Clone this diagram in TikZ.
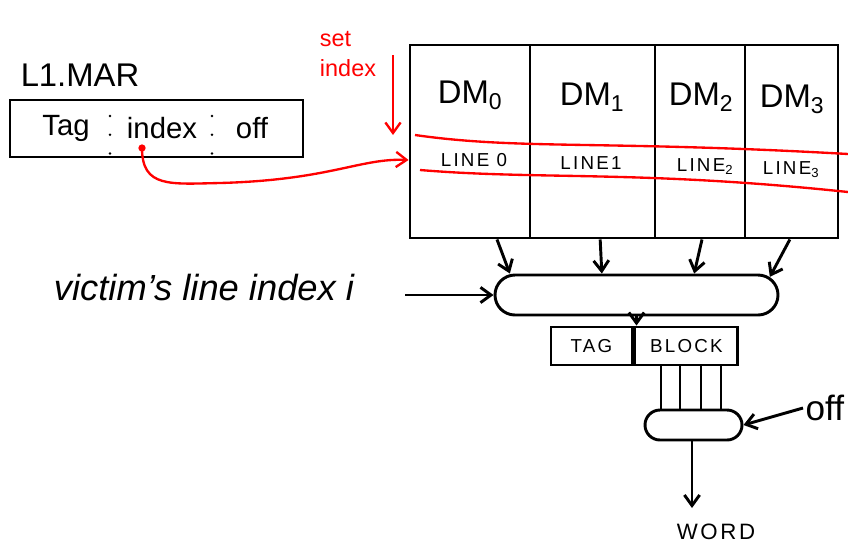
\documentclass[tikz,border=0pt]{standalone}
\usepackage{fontspec}
\setmainfont{Liberation Sans}
\newfontfamily\hand[LetterSpace=12]{Liberation Sans}
\usetikzlibrary{arrows.meta,positioning,shapes.misc}

\begin{document}
\begin{tikzpicture}[
  x=0.03cm, y=-0.03cm,
  line width=2.5pt,
  wire/.style={-{Straight Barb[length=9pt,width=13pt]}},
  red wire/.style={wire, red, line width=2pt},
  box/.style={draw, inner sep=0pt},
  mux/.style={draw, rounded rectangle, inner sep=0pt},
  big/.style={font=\fontsize{28}{30}\selectfont},
  mid/.style={font=\fontsize{25}{27}\selectfont},
  small/.style={font=\hand\fontsize{16}{18}\selectfont}
]
  \useasboundingbox (0,0) rectangle (848,548);

  % Address register
  \node[big] (marlab) at (80,75) {L1.MAR};
  \node[box, minimum width=8.79cm, minimum height=1.71cm] (mar) at (156.5,128.5) {};
  \node[mid] (tag) at (66,128) {Tag};
  \node[mid] (index) at (162,128) {index};
  \node[mid] (offs) at (252,128) {off};
  \draw[line cap=round, dash pattern=on 0pt off 16pt] (110,116) -- (110,160);
  \draw[line cap=round, dash pattern=on 0pt off 16pt] (212,116) -- (212,160);
  \coordinate (dot) at (142,148);
  \fill[red] (dot) circle (0.11cm);

  % Cache data memories
  \node[box, minimum width=3.6cm, minimum height=5.79cm] (dm0) at (470,141.5) {};
  \node[box, minimum width=3.75cm, minimum height=5.79cm] (dm1) at (592.5,141.5) {};
  \node[box, minimum width=2.7cm, minimum height=5.79cm] (dm2) at (700,141.5) {};
  \node[box, minimum width=2.79cm, minimum height=5.79cm] (dm3) at (791.5,141.5) {};
  \node[big] (dmlab0) at (470,95) {DM\textsubscript{0}};
  \node[big] (dmlab1) at (592,97) {DM\textsubscript{1}};
  \node[big] (dmlab2) at (701,97) {DM\textsubscript{2}};
  \node[big] (dmlab3) at (792,99) {DM\textsubscript{3}};
  \node[small] (line0) at (474,160) {LINE 0};
  \node[small] (line1) at (591,163) {LINE1};
  \node[small] (line2) at (705,167) {LINE\textsubscript{2}};
  \node[small] (line3) at (791,170) {LINE\textsubscript{3}};
  \draw[red, line width=2pt] (415,135) .. controls (520,150) and (600,140) .. (848,154);
  \draw[red, line width=2pt] (420,170) .. controls (540,180) and (640,170) .. (848,192);

  % Set index
  \node[red, font=\fontsize{20}{26}\selectfont, align=left] (setidx) at (348,54) {set\\index};
  \coordinate (sidx) at (393,55);
  \coordinate (sidxend) at (393,135);
  \draw[red wire] (sidx) -- (sidxend);
  \draw[red wire] (dot) .. controls (142,188) and (170,184) .. (220,183)
    .. controls (330,180) and (360,158) .. (dm0.west |- line0);

  % Way selection
  \node[mux, minimum width=8.49cm, minimum height=1.2cm] (mux) at (636.5,295) {};
  \draw[wire] ([xshift=0.81cm]dm0.south) -- ([xshift=-3.8cm]mux.north);
  \draw[wire] ([xshift=0.23cm]dm1.south) -- ([xshift=-1.04cm]mux.north);
  \draw[wire] ([xshift=0.06cm]dm2.south) -- ([xshift=1.73cm]mux.north);
  \draw[wire] ([xshift=-0.05cm]dm3.south) -- ([xshift=4.0cm,yshift=-0.1cm]mux.north);
  \node[font=\itshape\fontsize{31}{33}\selectfont] (victim) at (204,288) {victim's line index i};
  \coordinate (vin) at (405,295);
  \draw[wire] (vin) -- (mux.west);

  % Selected line
  \node[box, small, minimum width=2.43cm, minimum height=1.14cm] (tagf) at (591.5,346) {TAG};
  \node[box, small, minimum width=3.09cm, minimum height=1.14cm, right=0pt of tagf] (blk) {BLOCK};
  \draw[wire] (mux.south) -- (mux.south |- blk.north);

  % Word selection
  \node[mux, minimum width=2.91cm, minimum height=0.9cm] (smux) at (693.5,425) {};
  \foreach \xx in {661,680,701,721}
    \draw (\xx,0 |- blk.south) -- (\xx,0 |- smux.north);
  \node[font=\fontsize{30}{32}\selectfont, anchor=west, inner sep=1pt] (offin) at (803,408) {off};
  \draw[wire] (offin.west) -- (smux.east);
  \node[font=\hand\fontsize{19}{21}\selectfont] (word) at (716,532) {WORD};
  \coordinate (out) at (692,508);
  \draw[wire] (smux.south -| out) -- (out);

\end{tikzpicture}
\end{document}
